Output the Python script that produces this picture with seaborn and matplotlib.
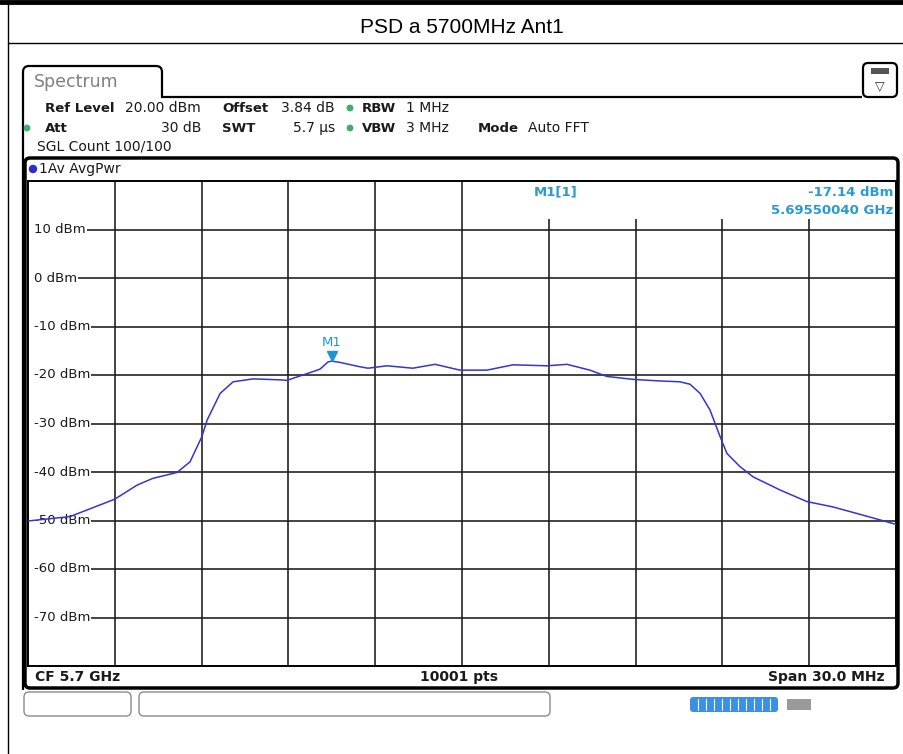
import numpy as np
import pandas as pd
import seaborn as sns
import matplotlib.pyplot as plt
from matplotlib.patches import FancyBboxPatch, Rectangle, Circle, PathPatch
from matplotlib.path import Path

sns.set_theme(style="white")
plt.rcParams['font.family'] = ['DejaVu Sans']

# trace: offset from CF (MHz) and level (dBm)
freq_offset_mhz = [-15.0, -13.55, -12.0, -11.23, -10.68, -9.85, -9.40, -8.99, -8.81,
                   -8.36, -7.91, -7.22, -6.29, -6.05, -5.50, -5.15, -4.91, -4.63,
                   -4.50, -4.22, -3.53, -3.25, -2.59, -1.70, -0.93, -0.07, 0.86,
                   1.76, 2.94, 3.63, 4.42, 5.01, 5.91, 6.74, 7.53, 7.88, 8.23,
                   8.57, 8.92, 9.16, 9.61, 10.06, 10.99, 11.92, 12.82, 13.86, 15.0]
level_dbm = [-50.1, -49.2, -45.6, -42.7, -41.3, -40.1, -37.9, -32.7, -29.3,
             -23.8, -21.4, -20.8, -21.0, -21.1, -20.0, -19.3, -18.8, -17.3,
             -17.14, -17.4, -18.3, -18.6, -18.1, -18.6, -17.8, -19.0, -19.0,
             -17.9, -18.1, -17.8, -19.0, -20.3, -20.9, -21.2, -21.4, -21.9, -23.8,
             -27.2, -32.7, -36.2, -38.9, -41.0, -43.7, -46.1, -47.2, -48.9, -50.8]

center_ghz = 5.7
span_mhz = 30.0
ref_level = 20
bottom_level = -80
y_grid = [10, 0, -10, -20, -30, -40, -50, -60, -70]
y_labels = ['10 dBm', '0 dBm', '-10 dBm', '-20 dBm', '-30 dBm', '-40 dBm',
            '-50 dBm', '-60 dBm', '-70 dBm']
marker_ghz = 5.6955004
marker_dbm = -17.14

df = pd.DataFrame({'freq': center_ghz + np.array(freq_offset_mhz) / 1000.0,
                   'level': level_dbm})

fig = plt.figure(figsize=(9.04, 7.54), dpi=100)

# background in pixel coordinates for the screen furniture
bg = fig.add_axes([0, 0, 1, 1])
bg.set_xlim(0, 904)
bg.set_ylim(754, 0)
bg.axis('off')

# document table lines and title
bg.plot([0, 904], [2, 2], color='black', lw=3.5)
bg.plot([8, 8], [2, 754], color='black', lw=1)
bg.plot([8, 904], [43, 43], color='black', lw=1)
bg.text(462, 33, 'PSD a 5700MHz Ant1', ha='center', va='baseline', fontsize=15,
        family=['Liberation Sans', 'DejaVu Sans'], color='black')

# Spectrum tab outline
r = 6
verts = [(23, 690), (23, 66 + r), (23, 66), (23 + r, 66), (162 - r, 66), (162, 66),
         (162, 66 + r), (162, 97), (862, 97)]
codes = [Path.MOVETO, Path.LINETO, Path.CURVE3, Path.CURVE3, Path.LINETO,
         Path.CURVE3, Path.CURVE3, Path.LINETO, Path.LINETO]
bg.add_patch(PathPatch(Path(verts, codes), fill=False, ec='black', lw=1.6))
bg.text(34, 82, 'Spectrum', ha='left', va='center', fontsize=12.5, color='#808080')

# menu icon top right
bg.add_patch(FancyBboxPatch((863, 63), 34, 34, boxstyle='round,pad=0,rounding_size=5',
                            fc='white', ec='black', lw=1.6))
bg.add_patch(Rectangle((871, 68), 18, 6, fc='#555555', ec='none'))
bg.text(880, 86, '\u25BD', ha='center', va='center', fontsize=9, color='#333333')

# settings block
info = dict(va='center', fontsize=10, color='#1a1a1a')
bold = dict(info, fontweight='bold', fontsize=9.5)
bg.text(45, 108, 'Ref Level', ha='left', **bold)
bg.text(201, 108, '20.00 dBm', ha='right', **info)
bg.text(222, 108, 'Offset', ha='left', **bold)
bg.text(335, 108, '3.84 dB', ha='right', **info)
bg.text(362, 108, 'RBW', ha='left', **bold)
bg.text(406, 108, '1 MHz', ha='left', **info)
bg.text(45, 128, 'Att', ha='left', **bold)
bg.text(201, 128, '30 dB', ha='right', **info)
bg.text(222, 128, 'SWT', ha='left', **bold)
bg.text(335, 128, '5.7 \u00b5s', ha='right', **info)
bg.text(362, 128, 'VBW', ha='left', **bold)
bg.text(406, 128, '3 MHz', ha='left', **info)
bg.text(478, 128, 'Mode', ha='left', **bold)
bg.text(528, 128, 'Auto FFT', ha='left', **info)
bg.text(37, 146, 'SGL Count 100/100', ha='left', **info)
for cx, cy in [(350, 108), (27, 128), (350, 128)]:
    bg.add_patch(Circle((cx, cy), 3.4, fc='#3fae6a', ec='none'))

# diagram window
bg.add_patch(FancyBboxPatch((25, 158), 873, 530, boxstyle='round,pad=0,rounding_size=5',
                            fc='white', ec='black', lw=2.5))
bg.add_patch(Circle((33, 169), 4.2, fc='#2b2bd0', ec='none'))
bg.text(39, 169, '1Av AvgPwr', ha='left', **info)
foot = dict(va='center', fontsize=10, fontweight='bold', color='#1a1a1a')
bg.text(35, 677, 'CF 5.7 GHz', ha='left', **foot)
bg.text(459, 677, '10001 pts', ha='center', **foot)
bg.text(885, 677, 'Span 30.0 MHz', ha='right', **foot)

# status bar below the window
bg.add_patch(FancyBboxPatch((24, 692), 107, 24, boxstyle='round,pad=0,rounding_size=5',
                            fc='white', ec='#8c8c8c', lw=1))
bg.add_patch(FancyBboxPatch((139, 692), 411, 24, boxstyle='round,pad=0,rounding_size=5',
                            fc='white', ec='#8c8c8c', lw=1))
bg.add_patch(FancyBboxPatch((690, 697), 88, 15, boxstyle='round,pad=0,rounding_size=3',
                            fc='#3d8fe6', ec='none'))
for sx in np.arange(698, 778, 8):
    bg.plot([sx, sx], [699, 710], color='white', lw=0.8)
bg.add_patch(Rectangle((787, 699), 24, 11, fc='#9a9a9a', ec='none'))

# the trace diagram itself
ax = fig.add_axes([28 / 904, (754 - 666) / 754, 868 / 904, 485 / 754])
sns.lineplot(data=df, x='freq', y='level', ax=ax, color='#3535d0', linewidth=1.1,
             zorder=3, legend=False)
ax.set_xlim(center_ghz - span_mhz / 2000, center_ghz + span_mhz / 2000)
ax.set_ylim(bottom_level, ref_level)
ax.set_xticks(center_ghz + np.arange(-12, 13, 3) / 1000.0)
ax.set_yticks(y_grid)
ax.tick_params(length=0, labelbottom=False, labelleft=False)
ax.set_axisbelow(True)
ax.grid(True, color='#1a1a1a', lw=1.15)
ax.set_xlabel('')
ax.set_ylabel('')
for s in ax.spines.values():
    s.set_color('black')
    s.set_linewidth(1.4)


def px(x, y):
    return ((x - 28) / 868, (666 - y) / 485)


# marker readout box in the top right
ax.add_patch(Rectangle(px(470, 219), (896 - 470) / 868, (219 - 181) / 485,
                       transform=ax.transAxes, fc='white', ec='none', zorder=1))
# blank strip left of the level labels
ax.add_patch(Rectangle((0, 0), 6 / 868, 1, transform=ax.transAxes,
                       fc='white', ec='none', zorder=1))
mk = dict(transform=ax.transAxes, va='center', fontsize=9.5, fontweight='bold',
          color='#2a9ad0', zorder=4)
ax.text(*px(556, 192), 'M1[1]', ha='center', **mk)
ax.text(*px(893, 192), '-17.14 dBm', ha='right', **mk)
ax.text(*px(893, 211), '5.69550040 GHz', ha='right', **mk)

# level labels on the left
for lv, lab in zip(y_grid, y_labels):
    ax.text(6 / 868, lv, lab, transform=ax.get_yaxis_transform(), ha='left', va='center',
            fontsize=9.5, color='#1a1a1a', zorder=2,
            bbox=dict(fc='white', ec='none', pad=0.8))

# marker M1
ax.plot([marker_ghz], [marker_dbm + 1.1], marker='v', ms=7, color='#1f95d0', zorder=4)
ax.text(marker_ghz, marker_dbm + 2.6, 'M1', ha='center', va='bottom', fontsize=9.5,
        color='#2596cf', zorder=4)

fig.savefig('out.png', dpi=100)
